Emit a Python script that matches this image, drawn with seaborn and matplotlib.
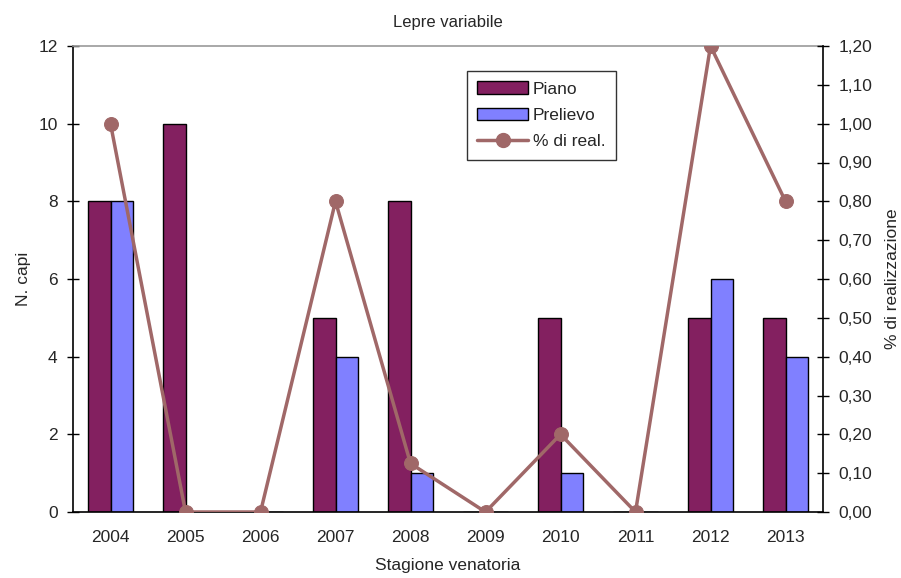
import matplotlib
matplotlib.use("Agg")
import matplotlib.pyplot as plt
import seaborn as sns
import numpy as np
import pandas as pd
from matplotlib.patches import Patch
from matplotlib.lines import Line2D
from matplotlib.ticker import FuncFormatter

seasons = ["2004", "2005", "2006", "2007", "2008", "2009", "2010", "2011", "2012", "2013"]
piano = [8, 10, 0, 5, 8, 0, 5, 0, 5, 5]
prelievo = [8, 0, 0, 4, 1, 0, 1, 0, 6, 4]
pct_real = [1.0, 0.0, 0.0, 0.8, 0.125, 0.0, 0.2, 0.0, 1.2, 0.8]

sns.set_theme(style="white")
plt.rcParams['font.family'] = ['Liberation Sans', 'DejaVu Sans']

C_PIANO = "#832060"
C_PREL = "#8080FF"
C_LINE = "#A06868"
FS = 12.5

df = pd.DataFrame({
    "Stagione": seasons * 2,
    "Serie": ["Piano"] * len(seasons) + ["Prelievo"] * len(seasons),
    "N": piano + prelievo,
})

fig = plt.figure(figsize=(9.01, 5.78), dpi=100)
ax = fig.add_axes([73 / 901, 1 - 512 / 578, (823 - 73) / 901, (512 - 46) / 578])

sns.barplot(data=df, x="Stagione", y="N", hue="Serie", order=seasons,
            palette={"Piano": C_PIANO, "Prelievo": C_PREL}, width=0.6,
            edgecolor="black", linewidth=1.0, saturation=1, ax=ax, legend=False)

ax.set_xlim(-0.5, len(seasons) - 0.5)
ax.set_ylim(0, 12)
ax.set_yticks(range(0, 13, 2))
ax.set_xticks(np.arange(len(seasons)))
ax.set_xticklabels(seasons)
ax.set_xticks(np.arange(-0.5, len(seasons), 1), minor=True)
ax.tick_params(axis="x", which="major", length=0, pad=13, labelsize=FS)
ax.tick_params(axis="x", which="minor", length=8, direction="inout", width=1, color="black")
ax.tick_params(axis="y", length=8, direction="inout", width=1, color="black", labelsize=FS, pad=7)

for s in ["left", "bottom"]:
    ax.spines[s].set_color("black")
    ax.spines[s].set_linewidth(1.2)
ax.spines["top"].set_color("#999999")
ax.spines["top"].set_linewidth(1.2)
ax.spines["right"].set_visible(False)

ax.set_xlabel("Stagione venatoria", fontsize=FS, labelpad=9)
ax.set_ylabel("N. capi", fontsize=FS, labelpad=5)
ax.set_title("Lepre variabile", fontsize=12, pad=14)

ax2 = ax.twinx()
sns.lineplot(x=np.arange(len(seasons)), y=pct_real, color=C_LINE, linewidth=2.5,
             marker="o", markersize=10, markeredgecolor=C_LINE, ax=ax2)
ax2.set_ylim(0, 1.2)
ax2.set_yticks(np.arange(0, 1.21, 0.1))
ax2.yaxis.set_major_formatter(FuncFormatter(lambda v, p: f"{v:.2f}".replace(".", ",")))
ax2.tick_params(axis="y", length=8, direction="inout", width=1, color="black", labelsize=FS, pad=7)
for s in ["left", "bottom", "top"]:
    ax2.spines[s].set_visible(False)
ax2.spines["right"].set_color("black")
ax2.spines["right"].set_linewidth(1.2)
ax2.set_ylabel("% di realizzazione", fontsize=FS, labelpad=9)
ax2.set_xlim(-0.5, len(seasons) - 0.5)

handles = [
    Patch(facecolor=C_PIANO, edgecolor="black", label="Piano"),
    Patch(facecolor=C_PREL, edgecolor="black", label="Prelievo"),
    Line2D([0], [0], color=C_LINE, linewidth=2.5, marker="o", markersize=10, label="% di real."),
]
leg = ax2.legend(handles=handles, loc="upper left",
                 bbox_to_anchor=((467 - 73) / 750, (512 - 71) / 466),
                 frameon=True, fancybox=False, edgecolor="black", fontsize=FS,
                 borderpad=0.6, labelspacing=0.65, handlelength=2.9, handleheight=0.7,
                 handletextpad=0.3, borderaxespad=0)
leg.get_frame().set_linewidth(1.0)

fig.savefig("out.png", dpi=100)
